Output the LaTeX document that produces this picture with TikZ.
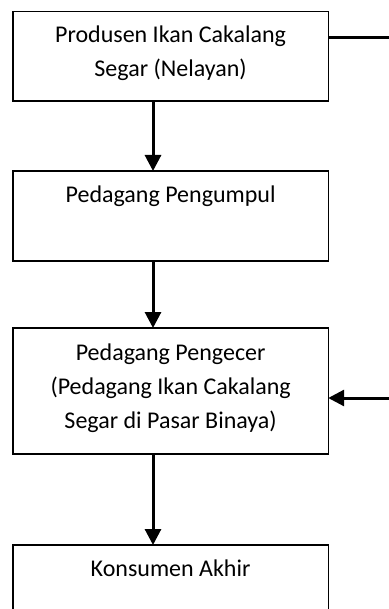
\documentclass[tikz,border=0pt]{standalone}
\usepackage{fontspec}
\setmainfont{Carlito}
\usetikzlibrary{arrows.meta}

\begin{document}
\begin{tikzpicture}[x=0.5pt, y=-0.5pt,
    box/.style={draw, line width=0.65pt, anchor=north west, minimum width=157.6pt,
      inner sep=0pt, outer sep=0pt, align=center, font=\fontsize{12}{17}\selectfont},
    flow/.style={line width=1.5pt, -{Triangle[length=8pt, width=8pt]}}]
    \clip (0, 0) rectangle (389, 609);
    % the chain, top to bottom
    \node (prod) [box, minimum height=44.65pt] at (13, 11.7) {Produsen Ikan Cakalang\\Segar (Nelayan)\strut};
    \node (pgl) [box, minimum height=45pt] at (13, 171) {Pedagang Pengumpul\\\strut};
    \node (ecer) [box, minimum height=63pt] at (13, 328) {Pedagang Pengecer\\(Pedagang Ikan Cakalang\\Segar di Pasar Binaya)\strut};
    \node (kons) [box, minimum height=45pt] at (13, 545) {Konsumen Akhir\\\strut};
    \coordinate (col) at (153, 0);
    \coordinate (out) at (389, 38);
    \coordinate (in) at (389, 398);
    \draw[flow] (prod.south -| col) -- (pgl.north -| col);
    \draw[flow] (pgl.south -| col) -- (ecer.north -| col);
    \draw[flow] (ecer.south -| col) -- (kons.north -| col);
    % side lines
    \draw[line width=1.5pt] (prod.east |- out) -- (out);
    \draw[flow] (in) -- (in -| ecer.east);
\end{tikzpicture}
\end{document}
